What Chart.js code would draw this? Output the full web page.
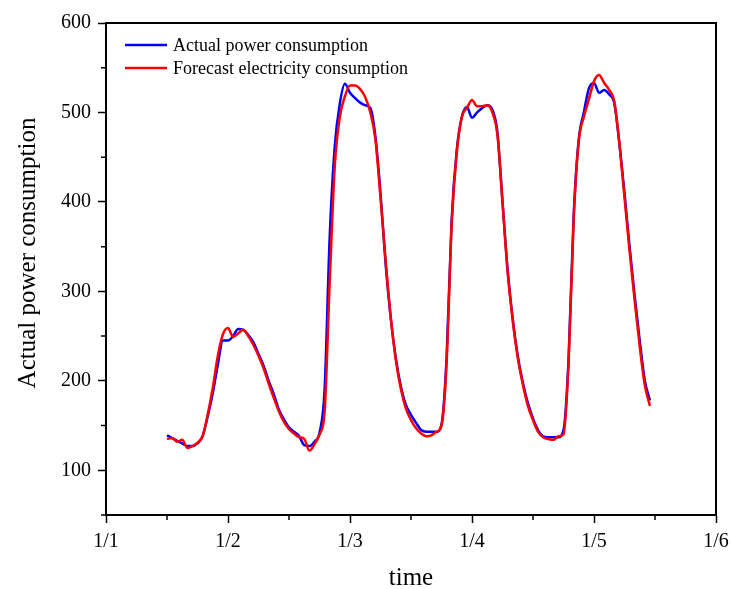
<!DOCTYPE html>
<html>
<head>
<meta charset="utf-8">
<script src="https://cdn.jsdelivr.net/npm/chart.js@4/dist/chart.umd.min.js"></script>
<style>
  html, body { margin: 0; padding: 0; background: #fff; }
  canvas { display: block; }
</style>
</head>
<body>
<canvas id="powerChart" width="731" height="589"></canvas>
<script>
// hours counted from 1/1 00:00
const hours = [
  12, 13, 14, 15, 16, 17, 18, 19, 20, 21, 22, 23,
  24, 25, 26, 27, 28, 29, 30, 31, 32, 33, 34, 35,
  36, 37, 38, 39, 40, 41, 42, 43, 44, 45, 46, 47,
  48, 49, 50, 51, 52, 53, 54, 55, 56, 57, 58, 59,
  60, 61, 62, 63, 64, 65, 66, 67, 68, 69, 70, 71,
  72, 73, 74, 75, 76, 77, 78, 79, 80, 81, 82, 83,
  84, 85, 86, 87, 88, 89, 90, 91, 92, 93, 94, 95,
  96, 97, 98, 99, 100, 101, 102, 103, 104, 105, 106, 107,
];

const actualPower = [
  139, 136, 133, 130, 127, 127, 130, 138, 160, 186, 218, 245,
  245, 250, 258, 257, 251, 243, 230, 217, 200, 185, 168, 157,
  148, 143, 138, 128, 127, 132, 142, 190, 360, 462, 510, 532,
  522, 516, 511, 508, 505, 473, 410, 331, 271, 226, 194, 173,
  162, 153, 145, 143, 143, 143, 151, 226, 380, 458, 495, 506,
  494, 500, 505, 508, 503, 478, 400, 325, 270, 228, 198, 175,
  158, 145, 138, 137, 137, 137, 145, 225, 385, 470, 500, 527,
  533, 522, 525, 520, 510, 465, 410, 350, 295, 245, 200, 178,
];

const forecastPower = [
  135, 136, 132, 134, 125, 127, 131, 138, 162, 192, 228, 252,
  259, 249, 253, 257, 250, 240, 228, 214, 197, 181, 166, 154,
  146, 141, 137, 135, 122, 129, 140, 165, 310, 440, 495, 518,
  530, 530, 526, 517, 500, 470, 405, 335, 272, 224, 191, 169,
  156, 147, 141, 138, 139, 143, 150, 220, 375, 455, 495, 505,
  514, 507, 507, 508, 500, 475, 400, 322, 268, 226, 196, 172,
  156, 143, 137, 135, 134, 138, 140, 220, 380, 468, 495, 515,
  535, 542, 533, 525, 512, 465, 405, 345, 290, 238, 195, 172,
];

const xMajorTicks = [0, 24, 48, 72, 96, 120];
const xMinorTicks = [12, 36, 60, 84, 108];
const yMajorTicks = [100, 200, 300, 400, 500, 600];
const yMinorTicks = [50, 150, 250, 350, 450, 550];

const X_TITLE = 'time';
const Y_TITLE = 'Actual power consumption';

const SERIES = [
  { label: 'Actual power consumption', values: actualPower, color: '#0000ff' },
  { label: 'Forecast electricity consumption', values: forecastPower, color: '#ff0000' },
];

const FONT_FAMILY = '"Liberation Serif", "Times New Roman", serif';
Chart.defaults.font.family = FONT_FAMILY;
Chart.defaults.color = '#000';

const toPoints = (values) => values.map((v, i) => ({ x: hours[i], y: v }));

// frame on top/right, minor ticks, axis titles and the legend inside the plot
const framePlugin = {
  id: 'frame',
  afterDraw(chart) {
    const { ctx, chartArea } = chart;
    const { left, right, top, bottom } = chartArea;
    const xs = chart.scales.x;
    const ys = chart.scales.y;

    ctx.save();
    ctx.strokeStyle = '#000';
    ctx.lineWidth = 2;
    ctx.beginPath();
    ctx.moveTo(left, top);
    ctx.lineTo(right, top);
    ctx.lineTo(right, bottom);
    ctx.stroke();

    ctx.lineWidth = 1.5;
    ctx.beginPath();
    xMinorTicks.forEach((t) => {
      const px = xs.getPixelForValue(t);
      ctx.moveTo(px, bottom);
      ctx.lineTo(px, bottom + 5);
    });
    yMinorTicks.forEach((t) => {
      const py = ys.getPixelForValue(t);
      ctx.moveTo(left, py);
      ctx.lineTo(left - 5, py);
    });
    ctx.stroke();

    // axis titles
    ctx.fillStyle = '#000';
    ctx.font = '25px ' + FONT_FAMILY;
    ctx.textAlign = 'center';
    ctx.textBaseline = 'alphabetic';
    ctx.fillText(X_TITLE, (left + right) / 2, 585);

    ctx.save();
    ctx.translate(35, (top + bottom) / 2 - 16);
    ctx.rotate(-Math.PI / 2);
    ctx.fillText(Y_TITLE, 0, 0);
    ctx.restore();

    // legend
    ctx.font = '18px ' + FONT_FAMILY;
    ctx.textBaseline = 'middle';
    ctx.textAlign = 'left';
    SERIES.forEach((s, i) => {
      const y = top + 22 + i * 23;
      ctx.strokeStyle = s.color;
      ctx.lineWidth = 2.5;
      ctx.beginPath();
      ctx.moveTo(left + 19, y);
      ctx.lineTo(left + 61, y);
      ctx.stroke();
      ctx.fillStyle = '#000';
      ctx.fillText(s.label, left + 67, y + 1);
    });
    ctx.restore();
  },
};

const DATASETS = SERIES.map((s, i) => ({
  label: s.label,
  data: toPoints(s.values),
  borderColor: s.color,
  backgroundColor: s.color,
  borderWidth: 2.5,
  pointRadius: 0,
  fill: false,
  cubicInterpolationMode: 'monotone',
  order: SERIES.length - i,
}));

const SCALES = {
  x: {
    type: 'linear',
    min: 0,
    max: 120,
    afterBuildTicks: (scale) => {
      scale.ticks = xMajorTicks.map((value) => ({ value }));
    },
    afterFit: (scale) => {
      scale.height = 74;
      scale.paddingLeft = 0;
      scale.paddingRight = 0;
    },
    border: { display: true, color: '#000', width: 2 },
    grid: {
      drawOnChartArea: false,
      drawTicks: true,
      tickLength: 8,
      tickColor: '#000',
      tickWidth: 1.5,
    },
    ticks: {
      font: { size: 20 },
      color: '#000',
      padding: 7,
      maxRotation: 0,
      callback: (v) => '1/' + (v / 24 + 1),
    },
  },
  y: {
    type: 'linear',
    min: 50,
    max: 600,
    afterBuildTicks: (scale) => {
      scale.ticks = yMajorTicks.map((value) => ({ value }));
    },
    afterFit: (scale) => {
      scale.width = 106;
      scale.paddingTop = 0;
      scale.paddingBottom = 0;
    },
    border: { display: true, color: '#000', width: 2 },
    grid: {
      drawOnChartArea: false,
      drawTicks: true,
      tickLength: 8,
      tickColor: '#000',
      tickWidth: 1.5,
    },
    ticks: {
      font: { size: 20 },
      color: '#000',
      padding: 7,
    },
  },
};

new Chart(document.getElementById('powerChart'), {
  type: 'line',
  data: { datasets: DATASETS },
  options: {
    responsive: false,
    devicePixelRatio: 1,
    animation: false,
    layout: { padding: { top: 23, right: 15, left: 0, bottom: 0 } },
    plugins: {
      legend: { display: false },
      tooltip: { enabled: false },
    },
    scales: SCALES,
  },
  plugins: [framePlugin],
});
</script>
</body>
</html>
